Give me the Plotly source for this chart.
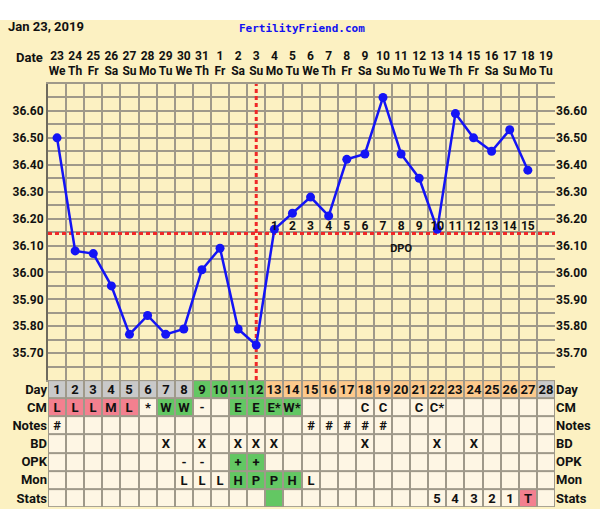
import plotly.graph_objects as go

# Chart data
chart_date = "Jan 23, 2019"
site_name = "FertilityFriend.com"

days = list(range(1, 29))
dates = [23, 24, 25, 26, 27, 28, 29, 30, 31, 1, 2, 3, 4, 5, 6, 7, 8, 9, 10,
         11, 12, 13, 14, 15, 16, 17, 18, 19]
weekdays = ["We", "Th", "Fr", "Sa", "Su", "Mo", "Tu"] * 4
temps = [36.50, 36.08, 36.07, 35.95, 35.77, 35.84, 35.77, 35.79, 36.01, 36.09,
         35.79, 35.73, 36.16, 36.22, 36.28, 36.21, 36.42, 36.44, 36.65, 36.44,
         36.35, 36.16, 36.59, 36.50, 36.45, 36.53, 36.38, None]
coverline = 36.145
ovulation_day = 12
dpo_labels = [str(i) for i in range(1, 16)]
dpo_days = list(range(13, 28))
dpo_title_day = 20

temp_ticks = [35.70, 35.80, 35.90, 36.00, 36.10, 36.20, 36.30, 36.40, 36.50, 36.60]
temp_range = [35.60, 36.70]

# Table rows
row_names = ["Day", "CM", "Notes", "BD", "OPK", "Mon", "Stats"]
day_phase = ["pre"] * 8 + ["fertile"] * 4 + ["post"] * 15 + ["next"]
cm = ["L", "L", "L", "M", "L", "*", "W", "W", "-", "", "E", "E", "E*", "W*",
      "", "", "", "C", "C", "", "C", "C*", "", "", "", "", "", ""]
flow_days = [1, 2, 3, 4, 5]
fertile_cm_days = [7, 8, 11, 12, 13, 14]
notes = ["#"] + [""] * 13 + ["#", "#", "#", "#", "#"] + [""] * 9
bd = ["", "", "", "", "", "", "X", "", "X", "", "X", "X", "X", "", "", "", "",
      "X", "", "", "", "X", "", "X", "", "", "", ""]
opk = ["", "", "", "", "", "", "", "-", "-", "", "+", "+", "", "", "", "", "",
       "", "", "", "", "", "", "", "", "", "", ""]
mon = ["", "", "", "", "", "", "", "L", "L", "L", "H", "P", "P", "H", "L", "",
       "", "", "", "", "", "", "", "", "", "", "", ""]
stats = [""] * 21 + ["5", "4", "3", "2", "1", "T", ""]

# Colours
bg = "#FCF1C2"
cream = "#FEF6E4"
gray_cell = "#C9C9C9"
green = "#63C763"
orange = "#FDC98C"
pink = "#F3808F"
grid = "#9F998A"
blue = "#1414F5"
red = "#F02828"
ink = "#111111"

code = {"cream": 0, "gray": 1, "green": 2, "orange": 3, "pink": 4}
phase_color = {"pre": "gray", "fertile": "green", "post": "orange", "next": "gray"}

day_fill = [code[phase_color[p]] for p in day_phase]
cm_fill = [code["pink"] if d in flow_days else code["green"] if d in fertile_cm_days
           else code["cream"] for d in days]
opk_fill = [code["green"] if t == "+" else code["cream"] for t in opk]
mon_fill = [code["green"] if t in ("H", "P") else code["cream"] for t in mon]
stats_fill = [code["pink"] if t == "T" else code["green"] if d == ovulation_day + 1
              else code["cream"] for d, t in zip(days, stats)]
blank = [code["cream"]] * len(days)

z = [day_fill, cm_fill, blank, blank, opk_fill, mon_fill, stats_fill]
cell_text = [[str(d) for d in days], cm, notes, bd, opk, mon, stats]


def bold(size, family="Roboto", color=ink):
    return dict(family=family, size=size, color=color, weight="bold")


fig = go.Figure()

# Temperature chart
fig.add_trace(go.Scatter(
    x=[ovulation_day, ovulation_day], y=temp_range, mode="lines",
    line=dict(color=red, width=3, dash="4px,3px"), hoverinfo="skip",
    xaxis="x", yaxis="y", showlegend=False))
fig.add_trace(go.Scatter(
    x=[days[0] - 0.5, days[-1] + 0.5], y=[coverline, coverline], mode="lines",
    line=dict(color=red, width=3, dash="4px,3px"), hoverinfo="skip",
    xaxis="x", yaxis="y", showlegend=False))
fig.add_trace(go.Scatter(
    x=days, y=temps, mode="lines+markers",
    line=dict(color=blue, width=2.5), marker=dict(color=blue, size=9),
    xaxis="x", yaxis="y", showlegend=False))
fig.add_trace(go.Scatter(
    x=dpo_days, y=[coverline] * len(dpo_days), mode="text", text=dpo_labels,
    textposition="top center", textfont=bold(12),
    xaxis="x", yaxis="y", showlegend=False, hoverinfo="skip"))
fig.add_trace(go.Scatter(
    x=[dpo_title_day], y=[coverline - 0.06], mode="text", text=["DPO"],
    textposition="middle center", textfont=bold(11),
    xaxis="x", yaxis="y", showlegend=False, hoverinfo="skip"))
# right-hand temperature labels
fig.add_trace(go.Scatter(
    x=days, y=temps, mode="lines", opacity=0, hoverinfo="skip",
    xaxis="x", yaxis="y3", showlegend=False))

# Table
fig.add_trace(go.Heatmap(
    x=days, y=list(range(len(row_names))), z=z, text=cell_text,
    texttemplate="%{text}", textfont=bold(13),
    colorscale=[[0, cream], [0.125, cream], [0.125, gray_cell], [0.375, gray_cell],
                [0.375, green], [0.625, green], [0.625, orange], [0.875, orange],
                [0.875, pink], [1, pink]],
    zmin=0, zmax=4, showscale=False, xgap=2, ygap=2, hoverinfo="skip",
    xaxis="x2", yaxis="y2"))
fig.add_trace(go.Scatter(
    x=[days[0]], y=[0], mode="markers", opacity=0, hoverinfo="skip",
    xaxis="x2", yaxis="y4", showlegend=False))

xrange = [days[0] - 0.5, days[-1] + 0.5]
temp_text = [f"{v:.2f}" for v in temp_ticks]
date_text = [f"{d}<br>{w}" for d, w in zip(dates, weekdays)]
rows = list(range(len(row_names)))
row_range = [len(row_names) - 0.5, -0.5]

fig.update_layout(
    width=600, height=509,
    margin=dict(l=48, r=45, t=84, b=2),
    paper_bgcolor=bg, plot_bgcolor=bg,
    font=bold(13),
    xaxis=dict(domain=[0, 1], range=xrange, side="top", anchor="y",
               tickvals=days, ticktext=date_text, tickangle=0, showgrid=False,
               ticks="", tickfont=bold(12), automargin=False, ticklabelstandoff=2,
               minor=dict(tick0=0.5, dtick=1, showgrid=True, gridcolor=grid,
                          gridwidth=1.5),
               showline=True, linecolor=grid, linewidth=1.5, mirror=True,
               zeroline=False),
    yaxis=dict(domain=[0.3, 1], range=temp_range, anchor="x",
               tickvals=temp_ticks, ticktext=temp_text, showgrid=True,
               gridcolor=grid, gridwidth=1.5, ticks="", automargin=False,
               minor=dict(tick0=35.6, dtick=0.05, showgrid=True, gridcolor=grid,
                          gridwidth=1.5),
               tickfont=bold(12),
               showline=True, linecolor="#6E6A5E", linewidth=2,
               zeroline=False),
    yaxis3=dict(overlaying="y", side="right", anchor="x", range=temp_range,
                tickvals=temp_ticks, ticktext=temp_text, showgrid=False,
                ticks="", zeroline=False, automargin=False, tickfont=bold(12)),
    xaxis2=dict(domain=[0, 1], range=xrange, anchor="y2", showticklabels=False,
                showgrid=False, zeroline=False, ticks="", automargin=False),
    yaxis2=dict(domain=[0, 0.3], range=row_range, anchor="x2",
                tickvals=rows, ticktext=row_names, automargin=False,
                showgrid=False, zeroline=False, ticks="", tickfont=bold(13)),
    yaxis4=dict(overlaying="y2", side="right", anchor="x2", range=row_range,
                tickvals=rows, ticktext=row_names, automargin=False,
                showgrid=False, zeroline=False, ticks="", tickfont=bold(13)),
    shapes=[
        dict(type="rect", xref="x2 domain", yref="y2 domain", x0=0, x1=1,
             y0=0, y1=1, fillcolor=grid, line=dict(width=0), layer="below"),
        dict(type="rect", xref="paper", yref="paper", x0=-0.1, x1=1.1,
             y0=1 + 64 / 423, y1=1.3, fillcolor="white", line=dict(width=0),
             layer="below"),
    ],
    annotations=[
        dict(text=chart_date, xref="paper", yref="paper", x=-48 / 507,
             y=1 + 57 / 423, xanchor="left", yanchor="middle", showarrow=False,
             xshift=6, font=bold(13)),
        dict(text=site_name, xref="paper", yref="paper", x=0.5, y=1 + 56 / 423,
             xanchor="center", yanchor="middle", showarrow=False,
             font=bold(11, "DejaVu Sans Mono", "#1010F0")),
        dict(text="Date", xref="paper", yref="paper", x=0, y=1 + 26 / 423,
             xanchor="right", yanchor="middle", showarrow=False, xshift=-3,
             font=bold(13)),
    ],
)

# page has a default body margin; drop it so the chart fills the window
fig.write_html("out.html", config={"displayModeBar": False},
               post_script="document.body.style.margin='0';")
